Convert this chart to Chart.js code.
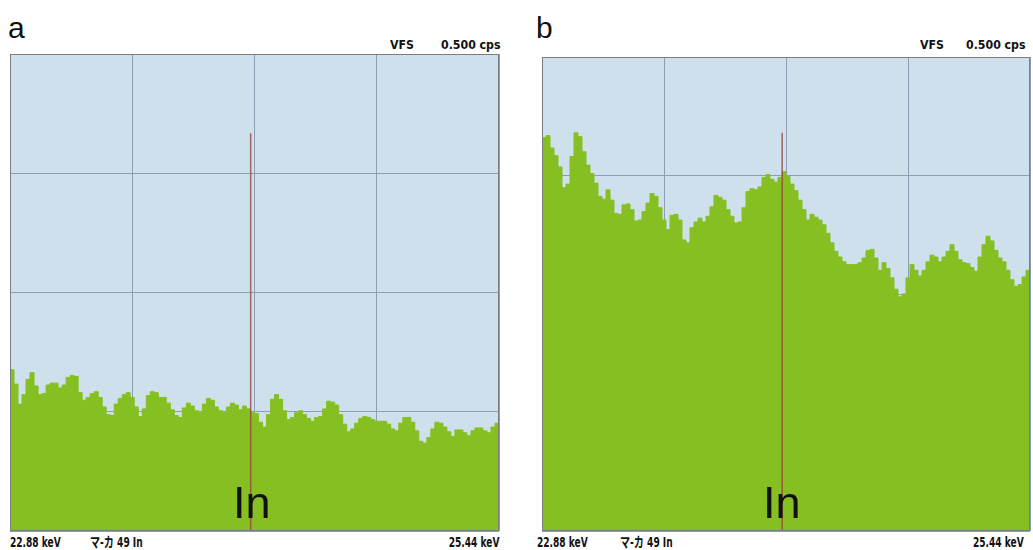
<!DOCTYPE html>
<html>
<head>
<meta charset="utf-8">
<script src="https://cdn.jsdelivr.net/npm/chart.js@4/dist/chart.umd.min.js"></script>
<style>
  body { margin: 0; background: #fff; width: 1033px; height: 550px; overflow: hidden; position: relative; }
  canvas { position: absolute; }
  .lbl { position: absolute; line-height: 1; white-space: nowrap; color: #111; }
  .panel { font-family: "Liberation Sans", Arial, sans-serif; font-size: 30px; }
  .small { font-family: "Liberation Sans Narrow", "DejaVu Sans Condensed", "Noto Sans CJK JP", sans-serif; font-size: 13px; font-weight: bold; }
  .top { transform: scaleX(0.94); transform-origin: left top; }
  .foot { font-size: 14px; transform: scaleX(0.72); transform-origin: left top; }
  .foot.r { transform-origin: right top; }
  .elem { font-family: "Liberation Sans", Arial, sans-serif; font-size: 45px; z-index: 2; }
</style>
</head>
<body>
<canvas id="chartA" width="491" height="479" style="left:9px;top:53px"></canvas>
<canvas id="chartB" width="490" height="476" style="left:541px;top:56px"></canvas>

<div class="lbl panel" style="left:8px;top:13px">a</div>
<div class="lbl panel" style="left:536px;top:13px">b</div>

<div class="lbl small top" style="left:390px;top:38px">VFS</div>
<div class="lbl small top" style="left:441px;top:38px">0.500 cps</div>
<div class="lbl small top" style="left:920px;top:38px">VFS</div>
<div class="lbl small top" style="left:966px;top:38px">0.500 cps</div>

<div class="lbl small foot" style="left:10px;top:535px">22.88 keV</div>
<div class="lbl small foot" style="left:90px;top:535px">マ-カ 49 In</div>
<div class="lbl small foot r" style="right:533px;top:535px">25.44 keV</div>
<div class="lbl small foot" style="left:537px;top:535px">22.88 keV</div>
<div class="lbl small foot" style="left:620px;top:535px">マ-カ 49 In</div>
<div class="lbl small foot" style="left:973px;top:535px">25.44 keV</div>

<div class="lbl elem" style="left:233px;top:480px">In</div>
<div class="lbl elem" style="left:763px;top:480px">In</div>

<script>
// energy window (keV) and vertical full scale (cps)
const energyStart = 22.88;
const energyEnd = 25.44;
const vfs = 0.5;
const gridKeV = [22.88, 23.52, 24.16, 24.80, 25.44];
const gridCps = [0, 0.125, 0.25, 0.375, 0.5];

// In K-alpha marker
const markerKeV = 24.14;
const markerTopA = 0.417;
const markerTopB = 0.42;

// spectrum a (cps per channel)
const countsA = [
  0.169, 0.154, 0.133, 0.143, 0.159, 0.166, 0.152, 0.143, 0.144, 0.153,
  0.155, 0.155, 0.150, 0.153, 0.161, 0.163, 0.162, 0.145, 0.137, 0.140,
  0.144, 0.146, 0.140, 0.130, 0.122, 0.121, 0.133, 0.139, 0.143, 0.145,
  0.140, 0.130, 0.120, 0.128, 0.142, 0.146, 0.145, 0.140, 0.140, 0.134,
  0.127, 0.121, 0.119, 0.129, 0.134, 0.131, 0.126, 0.124, 0.133, 0.139,
  0.137, 0.130, 0.126, 0.124, 0.130, 0.134, 0.132, 0.127, 0.131, 0.128,
  0.124, 0.123, 0.114, 0.109, 0.122, 0.138, 0.143, 0.138, 0.126, 0.117,
  0.119, 0.124, 0.126, 0.122, 0.118, 0.115, 0.119, 0.120, 0.128, 0.136,
  0.135, 0.132, 0.122, 0.112, 0.104, 0.107, 0.113, 0.118, 0.120, 0.119,
  0.117, 0.115, 0.115, 0.115, 0.112, 0.107, 0.105, 0.113, 0.119, 0.119,
  0.114, 0.105, 0.094, 0.092, 0.098, 0.107, 0.114, 0.113, 0.109, 0.104,
  0.099, 0.106, 0.106, 0.103, 0.100, 0.105, 0.108, 0.108, 0.105, 0.103,
  0.109, 0.113, 0.112
];

// spectrum b (cps per channel)
const countsB = [
  0.415, 0.417, 0.404, 0.396, 0.384, 0.362, 0.366, 0.395, 0.420, 0.416,
  0.400, 0.386, 0.377, 0.367, 0.353, 0.350, 0.360, 0.349, 0.335, 0.334,
  0.344, 0.345, 0.339, 0.327, 0.328, 0.337, 0.346, 0.356, 0.353, 0.341,
  0.328, 0.318, 0.333, 0.334, 0.328, 0.307, 0.304, 0.320, 0.326, 0.330,
  0.326, 0.332, 0.342, 0.354, 0.352, 0.349, 0.339, 0.332, 0.325, 0.326,
  0.341, 0.358, 0.361, 0.360, 0.363, 0.373, 0.376, 0.371, 0.368, 0.373,
  0.379, 0.374, 0.366, 0.359, 0.349, 0.339, 0.328, 0.334, 0.331, 0.328,
  0.323, 0.314, 0.304, 0.295, 0.289, 0.284, 0.281, 0.281, 0.281, 0.283,
  0.288, 0.296, 0.297, 0.288, 0.275, 0.283, 0.277, 0.267, 0.255, 0.247,
  0.250, 0.267, 0.281, 0.275, 0.269, 0.275, 0.284, 0.291, 0.289, 0.284,
  0.289, 0.295, 0.302, 0.295, 0.286, 0.283, 0.282, 0.278, 0.274, 0.289,
  0.302, 0.311, 0.306, 0.296, 0.288, 0.284, 0.275, 0.265, 0.258, 0.260,
  0.268, 0.275, 0.268
];

const plotBg = {
  id: "plotBg",
  beforeDraw(chart) {
    const { ctx, chartArea: a } = chart;
    ctx.save();
    ctx.fillStyle = "#cde0ec";
    ctx.fillRect(a.left, a.top, a.width, a.height);
    ctx.restore();
  },
  afterDraw(chart) {
    const { ctx, chartArea: a } = chart;
    ctx.save();
    ctx.strokeStyle = "#7d7d7d";
    ctx.lineWidth = 1;
    ctx.strokeRect(a.left + 0.5, a.top + 0.5, a.width - 1, a.height - 1);
    ctx.restore();
  },
};

// channel index -> energy
const toPoints = (counts) =>
  counts.map((c, i) => ({
    x: energyStart + (i * (energyEnd - energyStart)) / (counts.length - 1),
    y: c,
  }));

function makeSpectrum(id, counts, markerTop) {
  const ctx = document.getElementById(id).getContext("2d");
  return new Chart(ctx, {
    type: "line",
    data: {
      datasets: [
        {
          label: "In",
          data: [
            { x: markerKeV, y: 0 },
            { x: markerKeV, y: markerTop },
          ],
          borderColor: "rgba(150,70,60,0.8)",
          borderWidth: 1.5,
          pointRadius: 0,
          fill: false,
          order: 0,
        },
        {
          label: "spectrum",
          data: toPoints(counts),
          stepped: true,
          fill: "origin",
          backgroundColor: "#86bf22",
          borderColor: "#86bf22",
          borderWidth: 1,
          pointRadius: 0,
          order: 1,
        },
      ],
    },
    options: {
      responsive: false,
      animation: false,
      layout: { padding: 1 },
      plugins: { legend: { display: false }, tooltip: { enabled: false } },
      scales: {
        x: {
          type: "linear",
          min: energyStart,
          max: energyEnd,
          afterBuildTicks: (s) => { s.ticks = gridKeV.map((v) => ({ value: v })); },
          ticks: { display: false },
          grid: { color: "#8d9db3", drawTicks: false },
          border: { display: false },
        },
        y: {
          min: 0,
          max: vfs,
          afterBuildTicks: (s) => { s.ticks = gridCps.map((v) => ({ value: v })); },
          ticks: { display: false },
          grid: { color: "#8d9db3", drawTicks: false },
          border: { display: false },
        },
      },
    },
    plugins: [plotBg],
  });
}

makeSpectrum("chartA", countsA, markerTopA);
makeSpectrum("chartB", countsB, markerTopB);
</script>
</body>
</html>
